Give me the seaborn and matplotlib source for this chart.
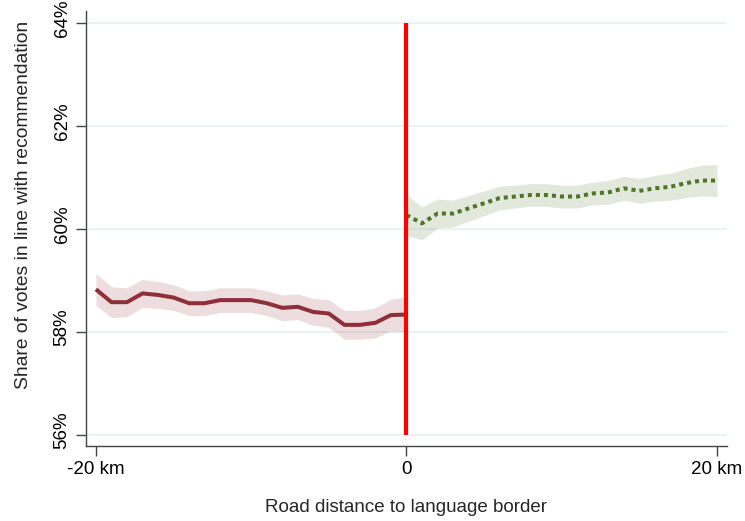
import matplotlib
matplotlib.use("Agg")
import matplotlib.pyplot as plt
from matplotlib.transforms import ScaledTranslation
import seaborn as sns
import pandas as pd

# road distance (km) to the language border
dist_left = list(range(-20, 1))
dist_right = list(range(0, 21))

# share of votes in line with recommendation (%)
share_left = [58.83, 58.58, 58.58, 58.75, 58.72, 58.67, 58.56, 58.56, 58.62, 58.62,
              58.62, 58.56, 58.47, 58.49, 58.39, 58.36, 58.14, 58.14, 58.18, 58.33, 58.34]
share_right = [60.27, 60.11, 60.30, 60.30, 60.40, 60.50, 60.60, 60.63, 60.66, 60.66,
               60.63, 60.63, 60.69, 60.71, 60.79, 60.74, 60.79, 60.82, 60.89, 60.94, 60.94]

# half width of the confidence band (%)
ci_left = [0.31, 0.30, 0.28, 0.27, 0.26, 0.25, 0.24, 0.24, 0.24, 0.24,
           0.24, 0.24, 0.25, 0.25, 0.26, 0.27, 0.28, 0.28, 0.29, 0.31, 0.34]
ci_right = [0.40, 0.32, 0.28, 0.26, 0.25, 0.24, 0.23, 0.22, 0.22, 0.22,
            0.22, 0.22, 0.22, 0.23, 0.23, 0.24, 0.25, 0.26, 0.28, 0.30, 0.31]

yticks = [56, 58, 60, 62, 64]
xticks = [-20, 0, 20]
xtick_labels = ["-20 km", "0", "20 km"]
cutoff = 0

left = pd.DataFrame({"dist": dist_left, "share": share_left, "ci": ci_left})
right = pd.DataFrame({"dist": dist_right, "share": share_right, "ci": ci_right})

sns.set_style("white")
plt.rcParams["font.family"] = ["Liberation Sans", "DejaVu Sans"]

red_col = "#8f2f3a"
green_col = "#4f7628"

fig = plt.figure(figsize=(7.45, 5.21), dpi=100)
ax = fig.add_axes([0.1154, 0.144, 0.8604, 0.8349])

for y in yticks:
    ax.axhline(y, color="#e9f1f4", lw=1.3, zorder=0)

ax.fill_between(left["dist"], left["share"] - left["ci"], left["share"] + left["ci"],
                color=red_col, alpha=0.16, lw=0)
ax.fill_between(right["dist"], right["share"] - right["ci"], right["share"] + right["ci"],
                color="#7f9a5f", alpha=0.22, lw=0)

sns.lineplot(data=left, x="dist", y="share", color=red_col, lw=2.9, ax=ax,
             errorbar=None, solid_capstyle="butt")
sns.lineplot(data=right, x="dist", y="share", color=green_col, lw=2.9, ax=ax,
             errorbar=None, linestyle=(0, (1, 1)))

ax.vlines(cutoff, yticks[0], yticks[-1], color="#ff0000", lw=3, zorder=5)

ax.set_xlim(-20.64, 20.64)
ax.set_ylim(55.79, 64.23)
ax.set_xticks(xticks)
ax.set_xticklabels(xtick_labels)
ax.set_yticks(yticks)
ax.set_yticklabels([f"{v}%" for v in yticks], rotation=90, va="center")

for s in ["top", "right"]:
    ax.spines[s].set_visible(False)
for s in ["left", "bottom"]:
    ax.spines[s].set_color("#444444")
    ax.spines[s].set_linewidth(1.0)

ax.tick_params(axis="both", direction="out", length=7, width=1, color="#444444",
               labelsize=13.5, labelcolor="black", pad=4, bottom=True, left=True)

# stata-style vertical labels sit a little above the tick
for lbl in ax.get_yticklabels():
    lbl.set_transform(lbl.get_transform() + ScaledTranslation(0, 0.045, fig.dpi_scale_trans))

ax.set_xlabel("Road distance to language border", fontsize=13.5, labelpad=15)
ax.set_ylabel("Share of votes in line with recommendation", fontsize=13.9)
ax.yaxis.set_label_coords(-0.084, 0.554)

fig.savefig("out.png", dpi=100)
